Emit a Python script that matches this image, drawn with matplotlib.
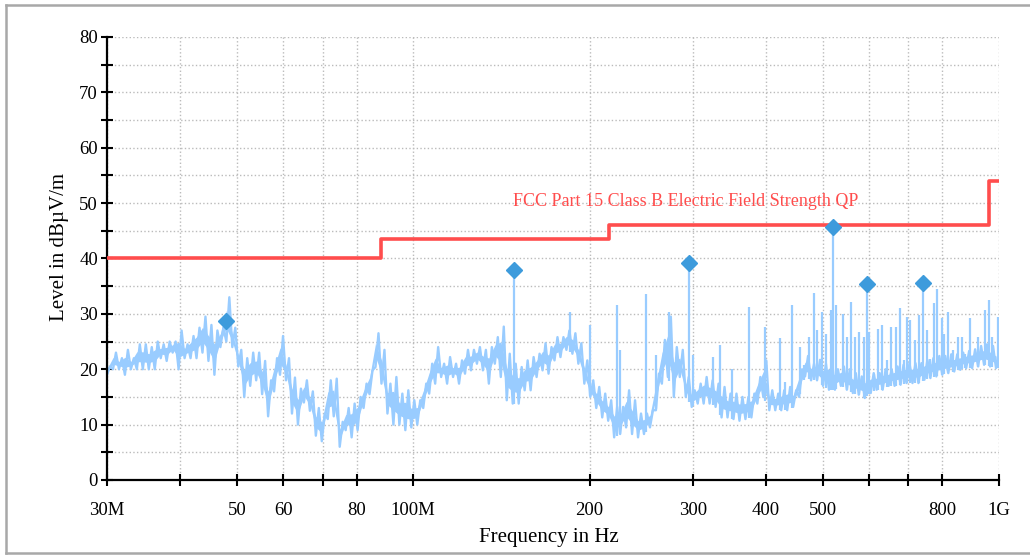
import numpy as np
import matplotlib
matplotlib.use("Agg")
import matplotlib.pyplot as plt
from matplotlib.lines import Line2D
from matplotlib.ticker import FixedLocator, FixedFormatter, NullLocator, MultipleLocator

plt.rcParams['font.family'] = ['Liberation Serif', 'DejaVu Serif']

# Data (frequencies in MHz, levels in dBuV/m)
# measured trace, read as low / high edge of the noise at each sweep point
trace_lo = [19, 20, 20, 19, 20, 20, 20, 20, 20, 22,
            21.5, 23, 20, 22, 22, 22, 23, 21.5, 19, 24,
            25, 24, 20.5, 15, 17, 18, 15.5, 11.5, 16, 19,
            18, 12, 10, 14, 12.5, 8, 7, 11, 11.5, 6,
            9, 7.7, 9, 13, 15.5, 20.4, 17.4, 12, 10, 10,
            9, 9.5, 10, 13, 15.6, 17.4, 18.6, 17.4, 18.6, 17.4,
            19.2, 19.8, 21, 19.8, 17.4, 21, 18.6, 14.4, 13.8, 13.8,
            16.2, 16.2, 18.6, 19.8, 19.2, 21.6, 22.2, 23.5, 22.8, 21,
            17.4, 15, 13, 11.3, 10.7, 7.7, 8.3, 9.5, 8.3, 7.7,
            8.3, 9.5, 12.6, 17.4, 18.6, 15, 18.6, 15, 13.2, 13.8,
            13.8, 13.8, 13.2, 11.3, 11.3, 11, 10.7, 11, 11.3, 13.8,
            15, 12.6, 12.6, 12.6, 12.6, 13.2, 15, 18.7, 18, 18,
            17, 16.3, 16.3, 17, 16.3, 15.7, 15.4, 14.8, 15.7, 16.3,
            16.3, 17, 17, 17.2, 17.5, 17.5, 17.5, 18.1, 18.4, 18.7,
            19, 19.3, 19.6, 19.9, 20.2, 20.2, 20.5, 20.8, 20.5, 20.2]
trace_hi = [20.5, 23, 22, 23.5, 22, 24.5, 24.5, 24, 25, 24.5,
            25, 25, 27, 24.5, 26, 27.5, 29.5, 28, 27, 27.5,
            33, 27.5, 23.5, 22, 23, 23, 21.5, 18, 22, 26,
            22, 18.5, 16.5, 18, 16, 13, 12, 18, 18.3, 10.5,
            13, 13.8, 15, 17.4, 19.8, 26.5, 23.5, 17.4, 18.6, 15.6,
            16.2, 14.4, 14.4, 17.4, 21, 24, 21, 22.2, 21, 21.6,
            23.5, 23.5, 24, 23.5, 24, 25.8, 27.7, 22.8, 21, 20.4,
            21.6, 22.2, 22.8, 24.7, 24, 25.8, 25.8, 27, 26.5, 24.7,
            21.6, 18, 16.8, 15.6, 14.4, 13.2, 13.2, 16.2, 14.4, 12,
            12, 12.6, 19.2, 25.3, 29.5, 24, 23.5, 18.6, 16.2, 17.4,
            18.6, 18, 17.4, 16.8, 15.6, 15.6, 15, 15, 15.6, 18.6,
            21.6, 16.2, 15.6, 16.2, 16.8, 16.2, 20, 22.4, 21, 21.7,
            21, 21.7, 20, 20.5, 20, 19.3, 18.7, 18.7, 19.3, 19.3,
            20, 20, 20.5, 20.8, 21.1, 21.1, 21.1, 21.7, 22, 22.4,
            22.4, 22.7, 22.7, 23, 23.3, 23.6, 24.2, 24.5, 24.2, 23.3]

# narrow carriers sticking out of the noise
spike_freq = [148.6, 185.2, 200.3, 222.8, 225.4, 249.7, 259.8, 273.3, 295.7, 300.3,
              324.9, 333.9, 350.1, 374.4, 398.6, 422.8, 431.3, 443.2, 457.5, 464.7,
              473.8, 483.3, 489.0, 498.8, 506.7, 516.7, 520.8, 526.8, 541.5, 550.1,
              558.8, 567.7, 576.8, 588.3, 595.0, 600.0, 611.7, 621.5, 631.4, 643.9,
              654.1, 667.1, 677.7, 688.4, 696.6, 705.0, 718.9, 730.3, 742.0, 753.6,
              762.5, 774.6, 783.8, 799.4, 805.7, 818.4, 834.6, 851.3, 864.8, 875.1,
              892.2, 920.7, 946.6, 961.6, 973.0, 998.0]
spike_level = [37.9, 30.4, 28, 31.6, 23.5, 33.5, 22.5, 30.4, 39.2, 22.5,
               22.2, 24.4, 20, 31.2, 27.6, 25.6, 17.7, 31.6, 24, 20.7,
               25.8, 33.7, 27, 30.4, 26.4, 30.7, 45.7, 31.6, 30, 25.8,
               32.2, 25.8, 26.8, 25.8, 35.4, 26.8, 19.2, 27.3, 28, 21.6,
               27.7, 27.7, 31, 21.6, 29.5, 28.9, 25.2, 29.8, 35.6, 27,
               21.9, 31.9, 34.4, 29.2, 26.4, 30.4, 23.4, 25.8, 25.8, 22.8,
               29.2, 25.8, 30.7, 32.5, 25.8, 29.5]

# final measurement points
peak_freq = [47.9, 148.6, 295.7, 520.8, 595.0, 742.0]
peak_level = [28.7, 37.9, 39.2, 45.7, 35.4, 35.6]

# limit line
limit_freq = [30, 88, 216, 960, 1000]
limit_level = [40, 43.5, 46, 54, 54]
limit_name = 'FCC Part 15 Class B Electric Field Strength QP'

tick_freq = [30, 40, 50, 60, 70, 80, 100, 200, 300, 400, 500, 600, 700, 800, 1000]
tick_text = ['30M', '', '50', '60', '', '80', '100M', '200', '300', '400', '500', '', '', '800', '1G']

trace_col = '#99CCFF'
peak_col = '#3D9BDC'
limit_col = '#FF4D4D'

fig = plt.figure(figsize=(10.3, 5.56), dpi=100)
ax = fig.add_axes([0.1039, 0.1367, 0.866, 0.7968])

# sweep points are log spaced; zigzag between low and high edge
lo = np.array(trace_lo)
hi = np.array(trace_hi)
sweep_f = np.geomspace(30, 1000, 2 * len(lo))
sweep_y = np.column_stack([lo, hi]).ravel()
ax.fill_between(sweep_f[::2], lo + 0.3 * (hi - lo), hi - 0.3 * (hi - lo),
                color=trace_col, lw=0, zorder=2)
ax.plot(sweep_f, sweep_y, color=trace_col, lw=1.7, zorder=2)

base = np.interp(spike_freq, sweep_f[::2], lo)
ax.vlines(spike_freq, base, spike_level, color=trace_col, lw=1.6, zorder=2)

ax.step(limit_freq, limit_level, where='post', color=limit_col, lw=2.6, zorder=3)
ax.text(148, 50.2, limit_name, color=limit_col, fontsize=13, ha='left', va='center', zorder=4)

ax.plot(peak_freq, peak_level, 'D', color=peak_col, ms=8.5, mec=peak_col, zorder=5)

ax.set_xscale('log')
ax.set_xlim(30, 1000)
ax.set_ylim(0, 80)
ax.xaxis.set_major_locator(FixedLocator(tick_freq))
ax.xaxis.set_major_formatter(FixedFormatter(tick_text))
ax.xaxis.set_minor_locator(NullLocator())
ax.yaxis.set_major_locator(MultipleLocator(10))
ax.yaxis.set_minor_locator(MultipleLocator(5))

ax.grid(True, which='both', color='#BBBBBB', ls=':', lw=1.0, zorder=0)
ax.set_axisbelow(True)
for s in ['top', 'right']:
    ax.spines[s].set_visible(False)
for s in ['left', 'bottom']:
    ax.spines[s].set_linewidth(1.6)
ax.tick_params(axis='both', which='both', direction='inout', length=9, width=1.5, labelsize=13.5)
ax.tick_params(axis='x', pad=11)
ax.tick_params(axis='y', pad=2)

ax.set_xlabel('Frequency in Hz', fontsize=15)
ax.set_ylabel('Level in dBµV/m', fontsize=15)
ax.xaxis.set_label_coords(0.495, -0.108)
ax.yaxis.set_label_coords(-0.043, 0.526)

# outer frame
for xs, ys in [([0.0058, 1.01], [0.991, 0.991]), ([0.0058, 1.01], [0.0054, 0.0054]),
               ([0.0058, 0.0058], [0.0054, 0.991])]:
    fig.add_artist(Line2D(xs, ys, transform=fig.transFigure, color='#A8A8A8', lw=1.8))

fig.savefig('out.png', dpi=100)
